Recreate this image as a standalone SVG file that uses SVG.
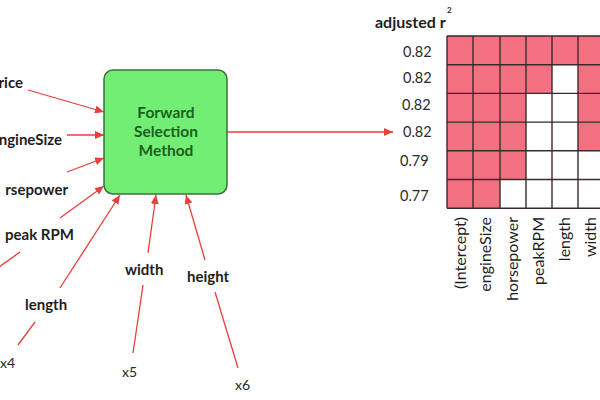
<svg xmlns="http://www.w3.org/2000/svg" width="600" height="400" viewBox="0 0 600 400">
<defs>
<marker id="ah" markerUnits="userSpaceOnUse" markerWidth="9" markerHeight="8" refX="9" refY="4" orient="auto">
<path d="M0,0 L9,4 L0,8 z" fill="#e8403a"/>
</marker>
<style>
.lbl{font-family:Lato,"Open Sans",sans-serif;font-weight:bold;font-size:15px;fill:#1e1e1e}
.hdr{font-family:Lato,"Open Sans",sans-serif;font-weight:bold;font-size:16px;fill:#1e1e1e}
.xv{font-family:Lato,"Open Sans",sans-serif;font-size:14px;fill:#2a2a2a}
.box{fill:#72ee74;stroke:#3f6e3f;stroke-width:1.5}
.btx{font-family:Lato,"Open Sans",sans-serif;font-weight:bold;font-size:15.5px;fill:#1d5e20;text-anchor:middle}
.cn{stroke:#e8403a;stroke-width:1.3;fill:none}
.ar{marker-end:url(#ah)}
.on{fill:#f2707f}
.off{fill:#ffffff}
.gl{stroke:#3a2a2c;stroke-width:1.4}
.rl{font-family:Lato,"Open Sans",sans-serif;font-size:14.5px;fill:#2a2a2a}
.cl{font-family:Lato,"Open Sans",sans-serif;font-size:16px;fill:#1e1e1e;text-anchor:end}
.sup{font-family:Lato,"Open Sans",sans-serif;font-weight:bold;font-size:8px;fill:#1e1e1e}
</style>
</defs>
<rect width="600" height="400" fill="#ffffff"/>

<g id="connectors">
<line class="cn ar" x1="28" y1="90" x2="104" y2="112"/>
<line class="cn ar" x1="67" y1="135" x2="104" y2="135"/>
<line class="cn ar" x1="67" y1="172" x2="104" y2="158"/>
<line class="cn ar" x1="60" y1="218" x2="104" y2="186"/>
<line class="cn" x1="20" y1="252" x2="-5" y2="270"/>
<line class="cn ar" x1="60" y1="288" x2="120" y2="195"/>
<line class="cn" x1="35" y1="322" x2="18" y2="345"/>
<line class="cn ar" x1="148" y1="253" x2="156" y2="195"/>
<line class="cn" x1="143" y1="285" x2="133" y2="353"/>
<line class="cn ar" x1="205" y1="260" x2="186" y2="195"/>
<line class="cn" x1="215" y1="292" x2="238" y2="368"/>
<line class="cn ar" x1="227" y1="132" x2="393" y2="132"/>
</g>

<g id="box">
<rect class="box" x="104" y="70" width="123" height="124" rx="9"/>
<text class="btx" x="166" y="118">Forward</text>
<text class="btx" x="166" y="137">Selection</text>
<text class="btx" x="166" y="156">Method</text>
</g>

<g id="price"><text class="lbl" x="23" y="88" text-anchor="end">rice</text></g>
<g id="engineSize"><text class="lbl" x="62" y="145" text-anchor="end">ngineSize</text></g>
<g id="horsepower"><text class="lbl" x="68" y="195" text-anchor="end">rsepower</text></g>
<g id="peakRPM"><text class="lbl" x="5" y="240">peak RPM</text></g>
<g id="length"><text class="lbl" x="25" y="310">length</text></g>
<g id="x4"><text class="xv" x="0" y="368">x4</text></g>
<g id="width"><text class="lbl" x="125" y="275">width</text></g>
<g id="x5"><text class="xv" x="122" y="377">x5</text></g>
<g id="height"><text class="lbl" x="187" y="282">height</text></g>
<g id="x6"><text class="xv" x="235" y="390">x6</text></g>

<g id="table">
<text class="hdr" x="375" y="28">adjusted r</text>
<text class="sup" x="447" y="13">2</text>
<g id="rowlabels">
<text class="rl" x="403" y="57">0.82</text>
<text class="rl" x="403" y="83">0.82</text>
<text class="rl" x="402" y="110">0.82</text>
<text class="rl" x="403" y="137">0.82</text>
<text class="rl" x="400" y="166">0.79</text>
<text class="rl" x="400" y="201">0.77</text>
</g>
<g id="cells">
<rect class="on" x="447" y="36" width="157" height="28.7"/>
<rect class="on" x="447" y="64.7" width="105" height="28.7"/>
<rect class="off" x="552" y="64.7" width="26" height="28.7"/>
<rect class="on" x="578" y="64.7" width="26" height="28.7"/>
<rect class="on" x="447" y="93.4" width="79" height="28.7"/>
<rect class="off" x="526" y="93.4" width="52" height="28.7"/>
<rect class="on" x="578" y="93.4" width="26" height="28.7"/>
<rect class="on" x="447" y="122.1" width="79" height="28.7"/>
<rect class="off" x="526" y="122.1" width="52" height="28.7"/>
<rect class="on" x="578" y="122.1" width="26" height="28.7"/>
<rect class="on" x="447" y="150.8" width="79" height="28.7"/>
<rect class="on" x="447" y="179.5" width="53" height="28.7"/>
</g>
<g id="gridlines" class="gl">
<line x1="447" y1="36" x2="604" y2="36"/>
<line x1="447" y1="64.7" x2="604" y2="64.7"/>
<line x1="447" y1="93.4" x2="604" y2="93.4"/>
<line x1="447" y1="122.1" x2="604" y2="122.1"/>
<line x1="447" y1="150.8" x2="604" y2="150.8"/>
<line x1="447" y1="179.5" x2="604" y2="179.5"/>
<line x1="447" y1="208.2" x2="604" y2="208.2"/>
<line x1="447" y1="36" x2="447" y2="208.2"/>
<line x1="473" y1="36" x2="473" y2="208.2"/>
<line x1="500" y1="36" x2="500" y2="208.2"/>
<line x1="526" y1="36" x2="526" y2="208.2"/>
<line x1="552" y1="36" x2="552" y2="208.2"/>
<line x1="578" y1="36" x2="578" y2="208.2"/>
</g>
<g id="collabels">
<text class="cl" transform="translate(466,217) rotate(-90)">(Intercept)</text>
<text class="cl" transform="translate(491,217) rotate(-90)">engineSize</text>
<text class="cl" transform="translate(518,217) rotate(-90)">horsepower</text>
<text class="cl" transform="translate(544,217) rotate(-90)">peakRPM</text>
<text class="cl" transform="translate(570,217) rotate(-90)">length</text>
<text class="cl" transform="translate(596,217) rotate(-90)">width</text>
</g>
</g>
</svg>
